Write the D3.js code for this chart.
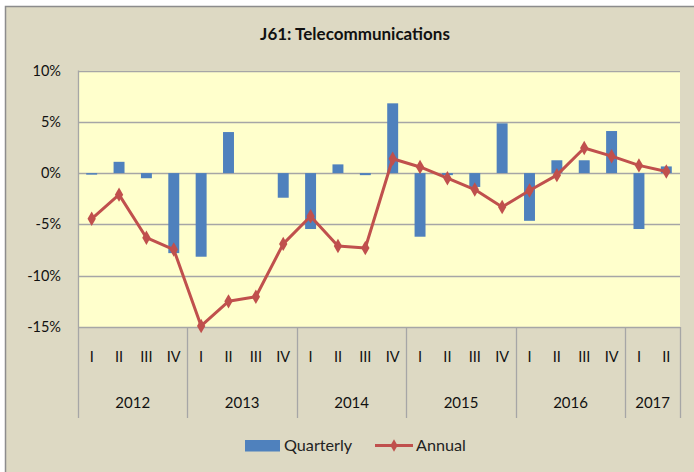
<!DOCTYPE html>
<html>
<head>
<meta charset="utf-8">
<script src="https://cdn.jsdelivr.net/npm/d3@7"></script>
<style>
  body { margin: 0; background: #fff; }
  svg { display: block; font-family: Lato, "Open Sans", sans-serif; }
</style>
</head>
<body>
<div id="chart"></div>
<script>
// Chart data
const years = ["2012", "2013", "2014", "2015", "2016", "2017"];
const quarterNames = ["I", "II", "III", "IV"];
const quarterCounts = [4, 4, 4, 4, 4, 2];
const quarterly = [-0.15, 1.1, -0.5, -7.8, -8.15, 4.0, 0, -2.4, -5.45, 0.85, -0.2, 6.8,
                   -6.2, -0.2, -1.35, 4.85, -4.65, 1.25, 1.25, 4.1, -5.45, 0.65];
const annual = [-4.45, -2.1, -6.3, -7.45, -14.9, -12.5, -12.05, -6.9, -4.2, -7.1, -7.3, 1.4,
                0.6, -0.5, -1.6, -3.3, -1.7, -0.2, 2.45, 1.65, 0.75, 0.15];
const yTicks = [10, 5, 0, -5, -10, -15];

// Build one entry per quarter
const periods = [];
years.forEach((y, i) => {
  for (let q = 0; q < quarterCounts[i]; q++) periods.push({ year: y, q: quarterNames[q] });
});
periods.forEach((p, i) => { p.key = p.year + "-" + p.q; p.quarterly = quarterly[i]; p.annual = annual[i]; });

const width = 694, height = 472;
const plot = { left: 78, right: 680, top: 70.5, bottom: 327 };

const svg = d3.create("svg")
    .attr("width", width)
    .attr("height", height);

// outer chart frame
svg.append("rect")
    .attr("x", 5.5).attr("y", 6.5)
    .attr("width", width).attr("height", height)
    .attr("fill", "#ddd9c3")
    .attr("stroke", "#8c8c8c")
    .attr("stroke-width", 1.5);

const x = d3.scaleBand()
    .domain(periods.map(d => d.key))
    .range([plot.left, plot.right])
    .paddingInner(0.6).paddingOuter(0.3);

const step = x.step();

const y = d3.scaleLinear()
    .domain([-15, 10])
    .range([plot.bottom, plot.top]);

// plot area
svg.append("rect")
    .attr("x", plot.left).attr("y", plot.top)
    .attr("width", plot.right - plot.left).attr("height", plot.bottom - plot.top)
    .attr("fill", "#ffffcc");

// gridlines
svg.append("g")
    .selectAll("line")
    .data(yTicks)
    .join("line")
    .attr("x1", plot.left).attr("x2", plot.right)
    .attr("y1", d => Math.round(y(d)) + 0.5).attr("y2", d => Math.round(y(d)) + 0.5)
    .attr("stroke", "#a6a6a6")
    .attr("stroke-width", 1.3);

svg.append("line")
    .attr("x1", plot.left + 0.5).attr("x2", plot.left + 0.5)
    .attr("y1", plot.top).attr("y2", plot.bottom)
    .attr("stroke", "#a6a6a6").attr("stroke-width", 1.3);

// y tick labels
svg.append("g")
    .selectAll("text")
    .data(yTicks)
    .join("text")
    .attr("x", 61)
    .attr("y", d => y(d) + 5)
    .attr("text-anchor", "end")
    .attr("font-size", 14.5)
    .attr("fill", "#111")
    .text(d => d + "%");

// bars
svg.append("g")
    .selectAll("rect")
    .data(periods)
    .join("rect")
    .attr("x", d => x(d.key) + (x.bandwidth() - step * 0.4) / 2)
    .attr("width", step * 0.4)
    .attr("y", d => y(Math.max(0, d.quarterly)))
    .attr("height", d => Math.abs(y(d.quarterly) - y(0)))
    .attr("fill", "#4f81bd");

// annual line
const cx = d => x(d.key) + x.bandwidth() / 2;
svg.append("path")
    .datum(periods)
    .attr("fill", "none")
    .attr("stroke", "#c0504d")
    .attr("stroke-width", 3)
    .attr("stroke-linejoin", "round")
    .attr("d", d3.line().x(cx).y(d => y(d.annual)));

const diamond = d3.symbol().type(d3.symbolDiamond).size(60);
svg.append("g")
    .selectAll("path")
    .data(periods)
    .join("path")
    .attr("transform", d => `translate(${cx(d)},${y(d.annual)})`)
    .attr("d", diamond)
    .attr("fill", "#c0504d");

// category axis: quarter labels
svg.append("g")
    .selectAll("text")
    .data(periods)
    .join("text")
    .attr("x", cx)
    .attr("y", 362)
    .attr("text-anchor", "middle")
    .attr("font-size", 14.5)
    .attr("fill", "#111")
    .text(d => d.q);

// year groups
let start = 0;
const groups = years.map((yr, i) => {
  const g = { year: yr, x0: plot.left + start * step, x1: plot.left + (start + quarterCounts[i]) * step };
  start += quarterCounts[i];
  return g;
});

svg.append("g")
    .selectAll("line")
    .data([plot.left].concat(groups.map(g => g.x1)))
    .join("line")
    .attr("x1", d => Math.round(d) + 0.5).attr("x2", d => Math.round(d) + 0.5)
    .attr("y1", plot.bottom).attr("y2", 418)
    .attr("stroke", "#a6a6a6").attr("stroke-width", 1.3);

svg.append("g")
    .selectAll("text")
    .data(groups)
    .join("text")
    .attr("x", d => (d.x0 + d.x1) / 2)
    .attr("y", 408)
    .attr("text-anchor", "middle")
    .attr("font-size", 15)
    .attr("fill", "#111")
    .text(d => d.year);

// title
svg.append("text")
    .attr("x", 355).attr("y", 40)
    .attr("text-anchor", "middle")
    .attr("font-size", 17)
    .attr("font-weight", "bold")
    .attr("fill", "#111")
    .text("J61: Telecommunications");

// legend
const legend = svg.append("g").attr("font-size", 16.2).attr("fill", "#222");
legend.append("rect")
    .attr("x", 245).attr("y", 440).attr("width", 35).attr("height", 11.5)
    .attr("fill", "#4f81bd");
legend.append("text").attr("x", 284).attr("y", 451).text("Quarterly");
legend.append("line")
    .attr("x1", 375).attr("x2", 413).attr("y1", 445.5).attr("y2", 445.5)
    .attr("stroke", "#c0504d").attr("stroke-width", 3);
legend.append("path")
    .attr("transform", "translate(394,445.5)")
    .attr("d", d3.symbol().type(d3.symbolDiamond).size(45))
    .attr("fill", "#c0504d");
legend.append("text").attr("x", 416).attr("y", 451).text("Annual");

d3.select("#chart").node().appendChild(svg.node());
</script>
</body>
</html>
